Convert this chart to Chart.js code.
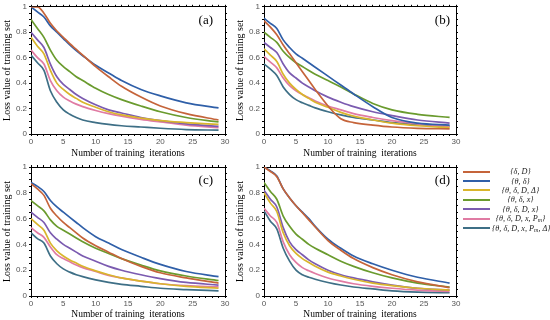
<!DOCTYPE html>
<html>
<head>
<meta charset="utf-8">
<script src="https://cdn.jsdelivr.net/npm/chart.js@4.4.0/dist/chart.umd.min.js"></script>
<style>
  body { margin: 0; background: #fff; }
  #pagina { position: relative; width: 550px; height: 320px; overflow: hidden; background: #fff; }
  canvas { position: absolute; }
  #legenda { position: absolute; left: 463px; top: 167px; margin: 0; padding: 0; list-style: none;
    font-family: "Liberation Serif", serif; font-style: italic; font-size: 8.2px; color: #222; }
  #legenda li { display: flex; align-items: center; height: 9.4px; }
  #legenda .linha { width: 27px; height: 2px; margin-right: 2px; }
  #legenda .texto { width: 57px; text-align: center; white-space: nowrap; }
  #legenda sub { font-size: 6px; vertical-align: -1px; }
</style>
</head>
<body>
<div id="pagina">
  <canvas id="graficoA" width="232" height="160" style="left:0;top:0"></canvas>
  <canvas id="graficoB" width="232" height="160" style="left:233px;top:0"></canvas>
  <canvas id="graficoC" width="232" height="160" style="left:0;top:160px"></canvas>
  <canvas id="graficoD" width="232" height="160" style="left:233px;top:160px"></canvas>
  <ul id="legenda"></ul>
</div>
<script>
// iteracoes (eixo x)
const iteracoes = [0, 1, 2, 3, 4, 5, 6, 7, 8, 10, 12, 14, 17, 20, 24, 29];

const nomes = [
  "{δ, D}",
  "{θ, δ}",
  "{θ, δ, D, Δ}",
  "{θ, δ, x}",
  "{θ, δ, D, x}",
  "{θ, δ, D, x, Pm}",
  "{θ, δ, D, x, Pm, Δ}",
];
const cores = ["#c5643a", "#2f5fa8", "#d9b52c", "#6a9b2e", "#7b5bb0", "#e07ba3", "#3e6f86"];

// painel (a)
const a_dD = [1.0, 1.0, 0.95, 0.87, 0.81, 0.76, 0.71, 0.665, 0.62, 0.53, 0.45, 0.375, 0.29, 0.22, 0.16, 0.11];
const a_td = [1.0, 0.96, 0.92, 0.85, 0.8, 0.75, 0.7, 0.655, 0.615, 0.54, 0.48, 0.42, 0.35, 0.3, 0.245, 0.205];
const a_tdDDelta = [0.76, 0.69, 0.63, 0.5, 0.4, 0.35, 0.31, 0.28, 0.25, 0.21, 0.175, 0.15, 0.125, 0.105, 0.09, 0.075];
const a_tdx = [0.9, 0.83, 0.76, 0.66, 0.58, 0.53, 0.49, 0.45, 0.42, 0.36, 0.31, 0.27, 0.22, 0.175, 0.13, 0.095];
const a_tdDx = [0.8, 0.74, 0.68, 0.55, 0.45, 0.39, 0.35, 0.31, 0.28, 0.23, 0.19, 0.165, 0.13, 0.105, 0.08, 0.06];
const a_tdDxPm = [0.66, 0.6, 0.55, 0.42, 0.34, 0.29, 0.26, 0.235, 0.215, 0.185, 0.16, 0.14, 0.115, 0.095, 0.07, 0.05];
const a_tdDxPmDelta = [0.62, 0.56, 0.5, 0.34, 0.25, 0.19, 0.155, 0.13, 0.11, 0.09, 0.075, 0.065, 0.055, 0.045, 0.035, 0.03];

// painel (b)
const b_dD = [0.89, 0.84, 0.78, 0.7, 0.63, 0.56, 0.49, 0.42, 0.35, 0.22, 0.12, 0.09, 0.07, 0.055, 0.045, 0.04];
const b_td = [0.91, 0.87, 0.83, 0.74, 0.68, 0.63, 0.595, 0.56, 0.525, 0.455, 0.385, 0.315, 0.215, 0.13, 0.085, 0.07];
const b_tdDDelta = [0.67, 0.62, 0.57, 0.47, 0.4, 0.35, 0.31, 0.28, 0.25, 0.21, 0.17, 0.14, 0.11, 0.085, 0.065, 0.05];
const b_tdx = [0.8, 0.76, 0.72, 0.65, 0.6, 0.56, 0.53, 0.5, 0.47, 0.42, 0.37, 0.315, 0.24, 0.19, 0.155, 0.13];
const b_tdDx = [0.72, 0.68, 0.64, 0.55, 0.48, 0.44, 0.4, 0.37, 0.34, 0.29, 0.25, 0.215, 0.175, 0.145, 0.11, 0.085];
const b_tdDxPm = [0.61, 0.565, 0.52, 0.44, 0.38, 0.34, 0.31, 0.285, 0.26, 0.22, 0.19, 0.16, 0.13, 0.105, 0.08, 0.06];
const b_tdDxPmDelta = [0.55, 0.51, 0.46, 0.37, 0.31, 0.27, 0.245, 0.225, 0.205, 0.175, 0.15, 0.13, 0.11, 0.09, 0.075, 0.06];

// painel (c)
const c_dD = [0.87, 0.83, 0.78, 0.68, 0.62, 0.57, 0.53, 0.49, 0.45, 0.39, 0.34, 0.29, 0.23, 0.18, 0.14, 0.1];
const c_td = [0.88, 0.85, 0.81, 0.74, 0.69, 0.65, 0.61, 0.57, 0.53, 0.46, 0.41, 0.36, 0.3, 0.245, 0.19, 0.15];
const c_tdDDelta = [0.6, 0.555, 0.51, 0.41, 0.35, 0.31, 0.28, 0.255, 0.23, 0.195, 0.165, 0.14, 0.115, 0.095, 0.075, 0.06];
const c_tdx = [0.74, 0.7, 0.66, 0.59, 0.54, 0.51, 0.48, 0.45, 0.42, 0.37, 0.33, 0.29, 0.24, 0.195, 0.155, 0.12];
const c_tdDx = [0.65, 0.61, 0.57, 0.49, 0.44, 0.4, 0.37, 0.34, 0.31, 0.27, 0.23, 0.2, 0.165, 0.135, 0.105, 0.085];
const c_tdDxPm = [0.53, 0.49, 0.455, 0.38, 0.32, 0.29, 0.265, 0.24, 0.22, 0.19, 0.16, 0.14, 0.115, 0.095, 0.08, 0.07];
const c_tdDxPmDelta = [0.49, 0.445, 0.41, 0.31, 0.25, 0.21, 0.185, 0.165, 0.15, 0.125, 0.105, 0.09, 0.075, 0.06, 0.05, 0.04];

// painel (d)
const d_dD = [1.0, 0.965, 0.925, 0.83, 0.76, 0.7, 0.645, 0.59, 0.535, 0.43, 0.355, 0.29, 0.22, 0.165, 0.11, 0.065];
const d_td = [1.0, 0.97, 0.93, 0.83, 0.76, 0.7, 0.65, 0.6, 0.54, 0.44, 0.37, 0.31, 0.25, 0.2, 0.145, 0.1];
const d_tdDDelta = [0.8, 0.72, 0.655, 0.49, 0.39, 0.33, 0.29, 0.26, 0.23, 0.185, 0.155, 0.13, 0.1, 0.08, 0.06, 0.045];
const d_tdx = [0.88, 0.81, 0.75, 0.62, 0.54, 0.48, 0.44, 0.4, 0.37, 0.32, 0.27, 0.23, 0.18, 0.14, 0.1, 0.07];
const d_tdDx = [0.82, 0.75, 0.69, 0.53, 0.42, 0.36, 0.32, 0.28, 0.25, 0.2, 0.165, 0.14, 0.11, 0.085, 0.06, 0.045];
const d_tdDxPm = [0.68, 0.62, 0.57, 0.42, 0.32, 0.26, 0.22, 0.195, 0.175, 0.14, 0.115, 0.095, 0.075, 0.06, 0.045, 0.035];
const d_tdDxPmDelta = [0.66, 0.58, 0.52, 0.37, 0.27, 0.2, 0.165, 0.145, 0.13, 0.105, 0.085, 0.07, 0.055, 0.04, 0.03, 0.025];

const fonteTick = { family: "Liberation Sans", size: 8 };
const fonteTituloX = { family: "Liberation Serif", size: 9.5 };
const fonteTituloY = { family: "Liberation Serif", size: 10 };

// escreve (a), (b)... dentro da area do grafico
const rotuloPainel = {
  id: "rotuloPainel",
  afterDraw(chart, args, opts) {
    const { ctx, chartArea } = chart;
    ctx.save();
    ctx.font = '13px "Liberation Serif"';
    ctx.fillStyle = "#000";
    ctx.textAlign = "right";
    ctx.textBaseline = "middle";
    ctx.fillText(opts.texto, chartArea.right - opts.recuo, chartArea.top + 13.5);
    ctx.restore();
  },
};

function eixoBorda() {
  return { display: true, color: "#000", width: 1 };
}

function criarPainel(id, letra, series, medidas) {
  const datasets = series.map((valores, i) => ({
    label: nomes[i],
    data: valores.map((v, j) => ({ x: iteracoes[j], y: v })),
    borderColor: cores[i],
    backgroundColor: cores[i],
    borderWidth: 1.7,
    pointRadius: 0,
    cubicInterpolationMode: "monotone",
  }));

  return new Chart(document.getElementById(id), {
    type: "line",
    data: { datasets: datasets },
    options: {
      responsive: false,
      animation: false,
      layout: { padding: 0 },
      plugins: {
        legend: { display: false },
        tooltip: { enabled: false },
        rotuloPainel: { texto: letra, recuo: medidas.recuo },
      },
      scales: {
        x: {
          type: "linear",
          position: "bottom",
          min: 0,
          max: 30,
          afterFit: (s) => { s.height = medidas.baixo; },
          ticks: {
            stepSize: 1,
            autoSkip: false,
            maxTicksLimit: 100,
            maxRotation: 0,
            padding: 1,
            font: fonteTick,
            color: "#555",
            callback: (v) => (v % 5 === 0 ? String(v) : ""),
          },
          grid: { drawOnChartArea: false, tickLength: 2, color: "#000" },
          border: eixoBorda(),
          title: {
            display: true,
            text: "Number of training  iterations",
            font: fonteTituloX,
            color: "#000",
            padding: { top: 0, bottom: medidas.tituloX },
          },
        },
        x2: {
          type: "linear",
          position: "top",
          min: 0,
          max: 30,
          afterFit: (s) => { s.height = medidas.topo; },
          ticks: { display: false, stepSize: 1, autoSkip: false, maxTicksLimit: 100 },
          grid: { drawOnChartArea: false, tickLength: 2, color: "#000" },
          border: eixoBorda(),
        },
        y: {
          type: "linear",
          min: 0,
          max: 1,
          afterFit: (s) => { s.width = 31; },
          ticks: {
            stepSize: 0.05,
            autoSkip: false,
            maxTicksLimit: 100,
            padding: 2,
            font: fonteTick,
            color: "#555",
            callback: (v) => {
              const k = Math.round(v * 100);
              return k % 20 === 0 ? String(k / 100) : "";
            },
          },
          grid: { drawOnChartArea: false, tickLength: 2, color: "#000" },
          border: eixoBorda(),
          title: {
            display: true,
            text: "Loss value of training set",
            font: fonteTituloY,
            color: "#000",
            padding: { top: 1, bottom: 0 },
          },
        },
        y2: {
          type: "linear",
          position: "right",
          min: 0,
          max: 1,
          afterFit: (s) => { s.width = medidas.direita; },
          ticks: { display: false, stepSize: 0.05, autoSkip: false, maxTicksLimit: 100 },
          grid: { drawOnChartArea: false, tickLength: 2, color: "#000" },
          border: eixoBorda(),
        },
      },
    },
    plugins: [rotuloPainel],
  });
}

criarPainel("graficoA", "(a)",
  [a_dD, a_td, a_tdDDelta, a_tdx, a_tdDx, a_tdDxPm, a_tdDxPmDelta],
  { topo: 5, baixo: 26, direita: 7, recuo: 12, tituloX: 1 });
criarPainel("graficoB", "(b)",
  [b_dD, b_td, b_tdDDelta, b_tdx, b_tdDx, b_tdDxPm, b_tdDxPmDelta],
  { topo: 5, baixo: 26, direita: 9, recuo: 6, tituloX: 1 });
criarPainel("graficoC", "(c)",
  [c_dD, c_td, c_tdDDelta, c_tdx, c_tdDx, c_tdDxPm, c_tdDxPmDelta],
  { topo: 7, baixo: 24, direita: 7, recuo: 12, tituloX: 0 });
const graficoD = criarPainel("graficoD", "(d)",
  [d_dD, d_td, d_tdDDelta, d_tdx, d_tdDx, d_tdDxPm, d_tdDxPmDelta],
  { topo: 7, baixo: 24, direita: 9, recuo: 6, tituloX: 0 });

// legenda em html, a partir dos datasets do painel (d)
function criarLegenda(chart) {
  const lista = document.querySelector("#legenda");
  let elementos = "";
  chart.data.datasets.forEach((ds) => {
    const texto = ds.label.replace(/Pm/g, "P<sub>m</sub>");
    elementos += `<li>
        <span class="linha" style="background:${ds.borderColor}"></span>
        <span class="texto">${texto}</span>
      </li>`;
  });
  lista.innerHTML = elementos;
}

criarLegenda(graficoD);
</script>
</body>
</html>
